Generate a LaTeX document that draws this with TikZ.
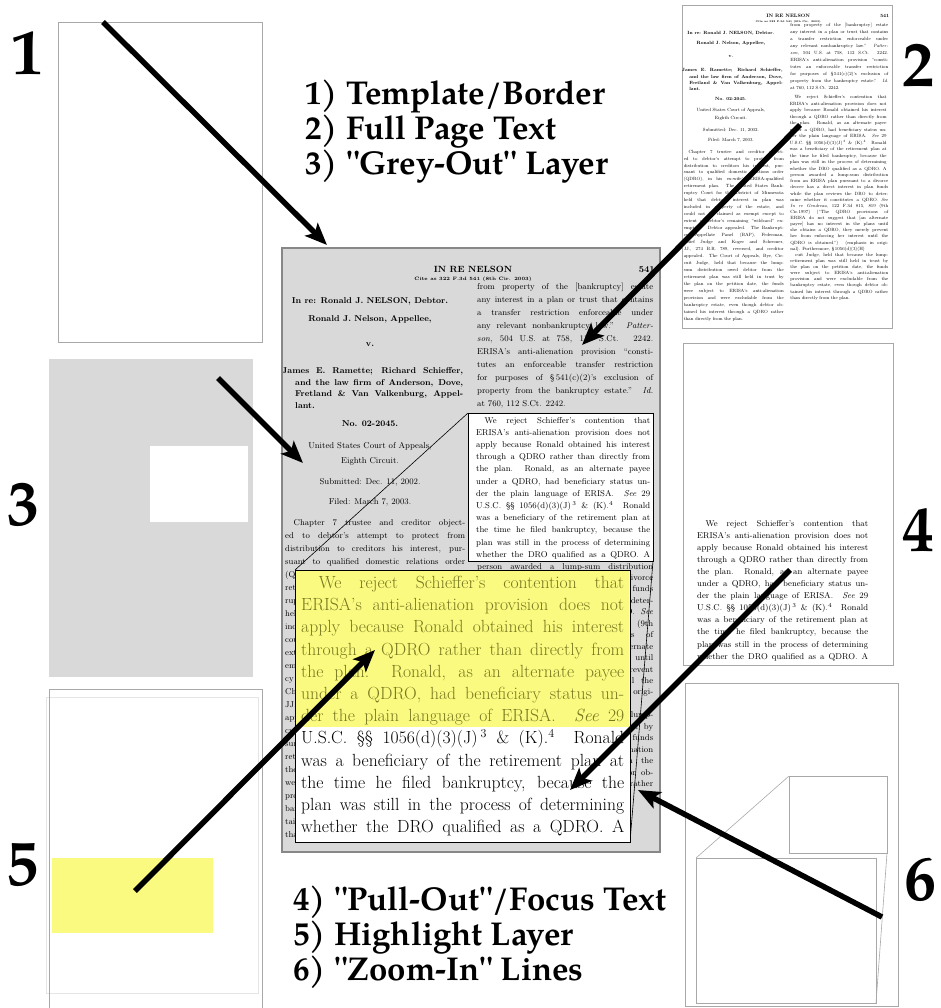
\documentclass[tikz,border=0pt]{standalone}
\usepackage{fontspec}
\newfontfamily\labelfont{texgyrepagella}[Extension=.otf, UprightFont=*-regular, BoldFont=*-bold]
\usetikzlibrary{arrows.meta}

\definecolor{pagegrey}{RGB}{217,217,217}
\definecolor{framegrey}{RGB}{168,168,168}
\definecolor{edgegrey}{RGB}{135,135,135}
\definecolor{hlyellow}{RGB}{250,250,128}
\definecolor{hltext}{RGB}{120,120,32}

\newcommand{\justline}[2]{\makebox[#1][s]{#2}}

% lines of the case page
\newcommand{\leftlines}{%
{\quad Chapter 7 trustee and creditor object-},
{ed to debtor's attempt to protect from},
{distribution to creditors his interest, pur-},
{suant to qualified domestic relations order},
{(QDRO), in his ex-wife's ERISA-qualified},
{retirement plan. The United States Bank-},
{ruptcy Court for the District of Minnesota},
{held that debtor's interest in plan was},
{included in property of the estate, and},
{could not be claimed as exempt except to},
{extent of debtor's remaining ``wildcard'' ex-},
{emption. Debtor appealed. The Bankrupt-},
{cy Appellate Panel (BAP), Federman,},
{Chief Judge and Koger and Schermer,},
{JJ., 274 B.R. 789, reversed, and creditor},
{appealed. The Court of Appeals, Bye, Cir-},
{cuit Judge, held that because the lump-},
{sum distribution owed debtor from the},
{retirement plan was still held in trust by},
{the plan on the petition date, the funds},
{were subject to ERISA's anti-alienation},
{provision and were excludable from the},
{bankruptcy estate, even though debtor ob-},
{tained his interest through a QDRO rather},
{than directly from the plan.\hfill}}

\newcommand{\toplines}{%
{from property of the [bankruptcy] estate},
{any interest in a plan or trust that contains},
{a transfer restriction enforceable under},
{any relevant nonbankruptcy law.'' \emph{Patter-}},
{\emph{son}, 504 U.S. at 758, 112 S.Ct. 2242.},
{ERISA's anti-alienation provision ``consti-},
{tutes an enforceable transfer restriction},
{for purposes of \S\,541(c)(2)'s exclusion of},
{property from the bankruptcy estate.'' \emph{Id.}},
{at 760, 112 S.Ct. 2242.\hfill}}

\newcommand{\pulllines}{%
{\quad We reject Schieffer's contention that},
{ERISA's anti-alienation provision does not},
{apply because Ronald obtained his interest},
{through a QDRO rather than directly from},
{the plan.\ \ Ronald, as an alternate payee},
{under a QDRO, had beneficiary status un-},
{der the plain language of ERISA.\ \ \emph{See} 29},
{U.S.C. \S\S\ 1056(d)(3)(J)\,$^{3}$ \& (K).$^{4}$\ \ Ronald},
{was a beneficiary of the retirement plan at},
{the time he filed bankruptcy, because the},
{plan was still in the process of determining},
{whether the DRO qualified as a QDRO. A}}

\newcommand{\restlines}{%
{person awarded a lump-sum distribution},
{from an ERISA plan pursuant to a divorce},
{decree has a direct interest in plan funds},
{while the plan reviews the DRO to deter-},
{mine whether it constitutes a QDRO. \emph{See}},
{\emph{In re Gendreau}, 122 F.3d 815, 819 (9th},
{Cir.1997) (``The QDRO provisions of},
{ERISA do not suggest that [an alternate},
{payee] has no interest in the plans until},
{she obtains a QDRO, they merely prevent},
{her from enforcing her interest until the},
{QDRO is obtained.'') (emphasis in origi-},
{nal). Furthermore, \S\,1056(d)(3)(H)\hfill},
{\quad cuit Judge, held that because the lump-},
{retirement plan was still held in trust by},
{the plan on the petition date, the funds},
{were subject to ERISA's anti-alienation},
{provision and were excludable from the},
{bankruptcy estate, even though debtor ob-},
{tained his interest through a QDRO rather},
{than directly from the plan.\hfill}}

% the whole page, origin at its top left corner
\newcommand{\pagetext}[1]{%
  \node[pghead] (#1head) at (191,24) {IN RE NELSON};
  \node[pgcite] (#1cite) at (191,32) {Cite as 322 F.3d 541 (8th Cir. 2003)};
  \node[pghead, anchor=base east] (#1num) at (373,24) {541};
  \node[pgbold] (#1cap1) at (88,55) {In re: Ronald J. NELSON, Debtor.};
  \node[pgbold] (#1cap2) at (88,73) {Ronald J. Nelson, Appellee,};
  \node[pgbold] (#1cap3) at (88,98) {v.};
  \node[pgbold, anchor=base west] (#1cap4) at (0,125) {\justline{181pt}{James E. Ramette; Richard Schieffer,}};
  \node[pgbold, anchor=base west] (#1cap5) at (13,137) {\justline{168pt}{and the law firm of Anderson, Dove,}};
  \node[pgbold, anchor=base west] (#1cap6) at (13,148.5) {\justline{168pt}{Fretland \& Van Valkenburg, Appel-}};
  \node[pgbold, anchor=base west] (#1cap7) at (13,160) {lant.};
  \node[pgbold] (#1cap8) at (88,178) {No. 02-2045.};
  \node[pgtext] (#1cap9) at (88,200) {United States Court of Appeals,};
  \node[pgtext] (#1cap10) at (88,215) {Eighth Circuit.};
  \node[pgtext] (#1cap11) at (88,236) {Submitted: Dec. 11, 2002.};
  \node[pgtext] (#1cap12) at (88,256) {Filed: March 7, 2003.};
  \foreach \txt [count=\i] in \leftlines {
    \node[pgline] (#1L\i) at (3,{277+13*(\i-1)}) {\justline{180pt}{\txt}};}
  \foreach \txt [count=\i] in \toplines {
    \node[pgline] (#1A\i) at (195,{41+13*(\i-1)}) {\justline{176pt}{\txt}};}
  \foreach \txt [count=\i] in \pulllines {
    \node[pgline] (#1B\i) at (194,{175+12.2*(\i-1)}) {\justline{174pt}{\txt}};}
  \foreach \txt [count=\i] in \restlines {
    \node[pgline] (#1C\i) at (195,{321+11.45*(\i-1)}) {\justline{176pt}{\txt}};}
}

\begin{document}
\begin{tikzpicture}[x=1pt, y=-1pt,
  pointer/.style={line width=5.5pt, -{Stealth[length=22pt,width=18pt,inset=5pt]}},
  panel/.style={draw=framegrey, line width=0.8pt},
  zoomline/.style={draw=black, line width=0.6pt},
  pghead/.style={anchor=base, inner sep=0pt, font=\fontsize{9}{10}\selectfont\bfseries},
  pgcite/.style={anchor=base, inner sep=0pt, font=\fontsize{4.8}{5}\selectfont\bfseries},
  pgbold/.style={anchor=base, inner sep=0pt, font=\fontsize{8.5}{10}\selectfont\bfseries},
  pgtext/.style={anchor=base, inner sep=0pt, font=\fontsize{8.5}{10}\selectfont},
  pgline/.style={anchor=base west, inner sep=0pt, font=\fontsize{8.5}{10}\selectfont},
  bigline/.style={anchor=base west, inner sep=0pt, font=\fontsize{17.6}{20}\selectfont},
  biglabel/.style={inner sep=0pt, font=\labelfont\bfseries\fontsize{64}{70}\selectfont},
  listlabel/.style={anchor=base west, inner sep=0pt, font=\labelfont\bfseries\fontsize{33}{36}\selectfont}]
  \useasboundingbox (0,0) rectangle (941,1008);

  % 1) template / border
  \draw[panel] (58,22) rectangle (262,342);
  \node[biglabel] (n1) at (27,53) {1};
  % 3) grey-out layer
  \fill[pagegrey] (49,359) rectangle (253,677);
  \fill[white] (150,446) rectangle (248,522);
  \node[biglabel] (n3) at (24,505) {3};
  % 5) highlight layer
  \draw[black!10] (46,697) rectangle (258,993);
  \draw[panel] (49,689) rectangle (262,1015);
  \fill[hlyellow] (52,858) rectangle (213,933);
  \node[biglabel] (n5) at (22,865) {5};

  % 2) full page text
  \draw[panel] (682,5) rectangle (892,328);
  \begin{scope}[shift={(682,5)}, xscale=0.5556, yscale=0.5348, transform shape]
    \pagetext{s}
  \end{scope}
  \node[biglabel] (n2) at (918,65) {2};
  % 4) pull-out text
  \draw[panel] (683,343) rectangle (893,665);
  \foreach \txt [count=\i] in \pulllines {
    \node[pgline] (F\i) at (697,{526+12.1*(\i-1)}) {\justline{171pt}{\txt}};}
  \node[biglabel] (n4) at (918,530) {4};
  % 6) zoom-in lines
  \coordinate (smallNW) at (789,776); \coordinate (smallSE) at (887,853);
  \coordinate (largeNW) at (696,858); \coordinate (largeSE) at (876,1003);
  \draw[panel] (685,683) rectangle (898,1006);
  \draw[panel] (smallNW) rectangle (smallSE);
  \draw[panel] (largeNW) rectangle (largeSE);
  \draw[panel, line width=0.6pt] (smallNW) -- (largeNW) (smallSE) -- (largeSE);
  \node[biglabel] (n6) at (920,880) {6};

  % the finished page in the middle
  \coordinate (boxNW) at (468,413); \coordinate (boxSE) at (653,561);
  \coordinate (pullNW) at (295,570); \coordinate (pullSE) at (630,842);
  \fill[pagegrey] (282,248) rectangle (660,852);
  \draw[fill=white, line width=0.8pt] (boxNW) rectangle (boxSE);
  \begin{scope}[shift={(282,248)}]
    \pagetext{m}
  \end{scope}
  \draw[edgegrey, line width=1.2pt] (282,248) rectangle (660,852);
  \draw[zoomline] (boxNW) -- (pullNW) (boxSE) -- (pullSE);
  \draw[fill=white, line width=1pt] (pullNW) rectangle (pullSE);
  \fill[hlyellow] (296,571) rectangle (629,727);
  \foreach \txt [count=\i] in \pulllines {
    \ifnum\i<8 \def\linecol{hltext}\else\def\linecol{black}\fi
    \node[bigline, text=\linecol] (P\i) at (301,{588.5+22.2*(\i-1)}) {\justline{323pt}{\txt}};}

  % legend
  \node[listlabel] (t1) at (305,105) {1) Template/Border};
  \node[listlabel] (t2) at (305,140) {2) Full Page Text};
  \node[listlabel] (t3) at (305,175) {3) "Grey-Out" Layer};
  \node[listlabel] (t4) at (293,910) {4) "Pull-Out"/Focus Text};
  \node[listlabel] (t5) at (293,945) {5) Highlight Layer};
  \node[listlabel] (t6) at (293,980) {6) "Zoom-In" Lines};

  % arrows from each layer into the page
  \coordinate (from1) at (103,22);  \coordinate (to1) at (327,245);
  \coordinate (from2) at (800,125); \coordinate (to2) at (582,345);
  \coordinate (from3) at (218,378); \coordinate (to3) at (303,463);
  \coordinate (from4) at (790,570); \coordinate (to4) at (570,790);
  \coordinate (from5) at (135,891); \coordinate (to5) at (375,650);
  \coordinate (from6) at (882,917); \coordinate (to6) at (638,790);
  \foreach \k in {1,...,6}
    \draw[pointer] (from\k) -- (to\k);
\end{tikzpicture}
\end{document}
